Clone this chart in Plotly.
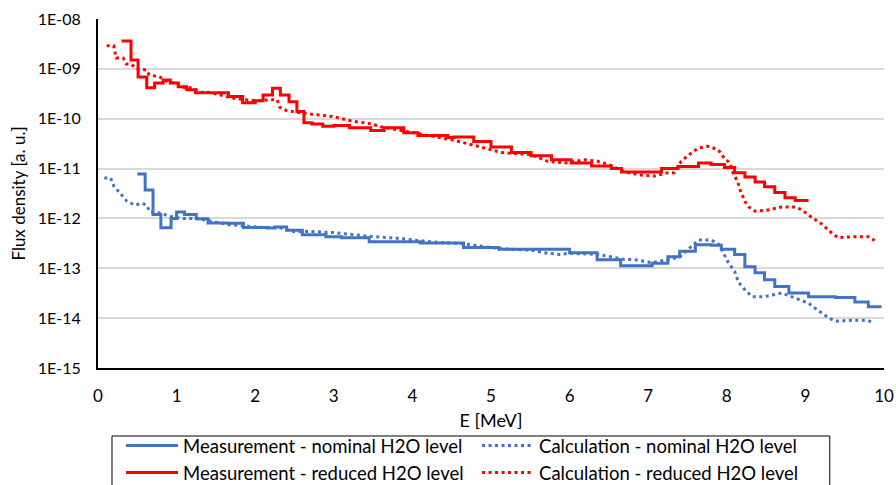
import plotly.graph_objects as go

# ---- data ----
E_meas_nom = [0.5, 0.6, 0.7, 0.8, 0.93, 1.0, 1.1, 1.25, 1.4, 1.65, 1.85, 2.15, 2.25, 2.4, 2.6, 2.9,
              3.1, 3.45, 4.1, 4.65, 5.1, 5.85, 6.0, 6.35, 6.65, 6.9, 7.05, 7.25, 7.4, 7.6, 7.8, 7.93,
              8.1, 8.23, 8.36, 8.48, 8.61, 8.79, 9.04, 9.38, 9.63, 9.8, 9.95]
F_meas_nom = [7.8e-12, 3.7e-12, 1.2e-12, 6.5e-13, 1.0e-12, 1.35e-12, 1.2e-12, 9.8e-13, 8.1e-13, 8.0e-13,
              6.6e-13, 6.4e-13, 6.7e-13, 5.8e-13, 4.7e-13, 4.3e-13, 4.1e-13, 3.4e-13, 3.2e-13, 2.6e-13,
              2.4e-13, 2.4e-13, 2.05e-13, 1.48e-13, 1.12e-13, 1.12e-13, 1.26e-13, 1.7e-13, 2.2e-13, 2.95e-13,
              2.9e-13, 2.4e-13, 1.9e-13, 1.07e-13, 8.1e-14, 5.9e-14, 4.3e-14, 3.2e-14, 2.7e-14, 2.6e-14,
              2.1e-14, 1.7e-14, 1.6e-14]

E_calc_nom = [0.08, 0.16, 0.2, 0.28, 0.37, 0.47, 0.56, 0.62, 0.66, 0.77, 0.92, 1.07, 1.25, 1.45, 1.66,
              2.09, 2.3, 2.5, 2.67, 3.0, 3.38, 3.81, 4.23, 4.66, 5.08, 5.51, 5.72, 5.87, 6.0, 6.36, 6.7,
              6.82, 7.04, 7.26, 7.4, 7.51, 7.64, 7.8, 7.9, 8.02, 8.1, 8.15, 8.23, 8.32, 8.48, 8.7, 9.04,
              9.12, 9.3, 9.38, 9.63, 9.8, 9.87]
F_calc_nom = [6.5e-12, 6.5e-12, 4.5e-12, 3.2e-12, 2.2e-12, 1.85e-12, 2.0e-12, 1.85e-12, 1.35e-12, 1.3e-12,
              1.1e-12, 1.0e-12, 1.0e-12, 8.7e-13, 7.5e-13, 6.6e-13, 6.6e-13, 5.4e-13, 5.5e-13, 5.2e-13,
              4.5e-13, 4.0e-13, 3.4e-13, 3.1e-13, 2.5e-13, 2.3e-13, 2.0e-13, 1.9e-13, 2.0e-13, 1.9e-13,
              1.5e-13, 1.5e-13, 1.3e-13, 1.5e-13, 1.7e-13, 2.4e-13, 3.7e-13, 3.7e-13, 3.0e-13, 1.3e-13,
              8.6e-14, 5.2e-14, 3.7e-14, 2.7e-14, 2.7e-14, 3.2e-14, 2.0e-14, 1.6e-14, 1.0e-14, 8.7e-15,
              9.1e-15, 9.0e-15, 7.7e-15]

E_meas_red = [0.3, 0.42, 0.51, 0.62, 0.72, 0.83, 0.92, 1.02, 1.13, 1.24, 1.66, 1.84, 2.0, 2.1, 2.22, 2.32,
              2.43, 2.53, 2.62, 2.72, 2.86, 3.0, 3.2, 3.47, 3.64, 3.89, 4.07, 4.45, 4.53, 4.78, 5.0, 5.26,
              5.51, 5.77, 6.02, 6.28, 6.53, 6.66, 6.91, 7.17, 7.38, 7.64, 7.8, 7.97, 8.1, 8.23, 8.36, 8.48,
              8.61, 8.74, 8.87, 9.04]
F_meas_red = [3.6e-9, 1.5e-9, 6.9e-10, 4.2e-10, 5.2e-10, 6.0e-10, 5.2e-10, 4.4e-10, 3.8e-10, 3.3e-10,
              2.8e-10, 2.1e-10, 2.3e-10, 3.0e-10, 4.1e-10, 3.0e-10, 2.2e-10, 1.4e-10, 8.3e-11, 7.8e-11,
              7.1e-11, 7.3e-11, 6.6e-11, 5.8e-11, 6.6e-11, 5.2e-11, 4.6e-11, 4.2e-11, 4.3e-11, 3.5e-11,
              2.7e-11, 2.1e-11, 1.8e-11, 1.5e-11, 1.3e-11, 1.12e-11, 1.0e-11, 8.5e-12, 8.5e-12, 1.0e-11,
              1.1e-11, 1.3e-11, 1.2e-11, 1.05e-11, 8.2e-12, 6.8e-12, 5.4e-12, 4.3e-12, 3.3e-12, 2.6e-12,
              2.3e-12, 2.3e-12]

E_calc_red = [0.11, 0.2, 0.23, 0.32, 0.36, 0.42, 0.49, 0.54, 0.62, 0.65, 0.73, 0.79, 0.9, 1.0, 1.1, 1.2,
              1.3, 1.4, 1.6, 1.7, 1.87, 2.05, 2.18, 2.28, 2.31, 2.4, 2.68, 2.85, 3.0, 3.21, 3.47, 3.6,
              3.81, 4.0, 4.23, 4.53, 4.87, 5.13, 5.51, 5.72, 5.94, 6.19, 6.36, 6.5, 6.7, 6.91, 7.08, 7.25,
              7.33, 7.42, 7.53, 7.64, 7.76, 7.89, 7.97, 8.04, 8.08, 8.14, 8.17, 8.23, 8.28, 8.36, 8.5,
              8.7, 8.87, 8.95, 9.08, 9.21, 9.34, 9.42, 9.6, 9.8, 9.88]
F_calc_red = [2.9e-9, 2.9e-9, 1.65e-9, 1.65e-9, 1.25e-9, 1.25e-9, 1.0e-9, 9.9e-10, 9.5e-10, 7.6e-10,
              7.2e-10, 6.8e-10, 5.3e-10, 5.3e-10, 4.2e-10, 4.2e-10, 3.4e-10, 3.4e-10, 2.9e-10, 2.6e-10,
              2.4e-10, 2.3e-10, 2.4e-10, 2.4e-10, 1.7e-10, 1.45e-10, 1.25e-10, 1.15e-10, 1.1e-10, 9.1e-11,
              7.9e-11, 6.9e-11, 6.0e-11, 5.2e-11, 4.6e-11, 3.7e-11, 2.7e-11, 2.1e-11, 1.9e-11, 1.4e-11,
              1.3e-11, 1.5e-11, 1.4e-11, 1.2e-11, 8.6e-12, 7.4e-12, 7.1e-12, 8.2e-12, 8.2e-12, 1.4e-11,
              1.95e-11, 2.6e-11, 2.8e-11, 2.4e-11, 1.6e-11, 1.3e-11, 8.2e-12, 5.4e-12, 3.7e-12, 2.2e-12,
              1.7e-12, 1.4e-12, 1.45e-12, 1.7e-12, 1.7e-12, 1.5e-12, 1.05e-12, 7.7e-13, 5.0e-13, 4.1e-13,
              4.3e-13, 4.3e-13, 3.6e-13]

y_tick_vals = [1e-15, 1e-14, 1e-13, 1e-12, 1e-11, 1e-10, 1e-09, 1e-08]
y_tick_text = ["1E-15", "1E-14", "1E-13", "1E-12", "1E-11", "1E-10", "1E-09", "1E-08"]

names = ["Measurement - nominal H2O level", "Calculation - nominal H2O level",
         "Measurement - reduced H2O level", "Calculation - reduced H2O level"]

BLUE = "#4472C4"
RED = "#FF0000"
FONT = "Lato, Liberation Sans, Arial, sans-serif"
DOT = "3px,3.5px"

fig = go.Figure()
fig.add_trace(go.Scatter(x=E_meas_nom, y=F_meas_nom, mode="lines", name=names[0],
                         line=dict(color=BLUE, width=3, shape="hv")))
fig.add_trace(go.Scatter(x=E_calc_nom, y=F_calc_nom, mode="lines", name=names[1],
                         line=dict(color=BLUE, width=3, dash=DOT)))
fig.add_trace(go.Scatter(x=E_meas_red, y=F_meas_red, mode="lines", name=names[2],
                         line=dict(color=RED, width=3, shape="hv")))
fig.add_trace(go.Scatter(x=E_calc_red, y=F_calc_red, mode="lines", name=names[3],
                         line=dict(color=RED, width=3, dash=DOT)))

# legend frame (drawn as a shape so its edges sit where the reference has them)
fig.add_shape(type="rect", xref="paper", yref="paper",
              x0=0.0178, x1=0.931, y0=-0.345, y1=-0.1948,
              line=dict(color="#000000", width=1), fillcolor="rgba(0,0,0,0)", layer="above")

fig.update_layout(
    width=896, height=485,
    margin=dict(l=98, r=12, t=19, b=117, autoexpand=False),
    paper_bgcolor="white", plot_bgcolor="white",
    font=dict(family=FONT, color="#000000", size=16),
    legend=dict(orientation="h", x=0.0293, xanchor="left", y=-0.169, yanchor="top",
                borderwidth=0, bgcolor="rgba(0,0,0,0)",
                font=dict(size=18.5, family=FONT), itemwidth=52,
                entrywidth=289, entrywidthmode="pixels", tracegroupgap=0),
    xaxis=dict(range=[0, 10], dtick=1, tick0=0, showgrid=False, zeroline=False,
               showline=True, linecolor="#000000", linewidth=2,
               ticks="", ticklabelstandoff=12,
               tickfont=dict(size=17),
               title=dict(text="E [MeV]", font=dict(size=18), standoff=9)),
    yaxis=dict(type="log", range=[-15, -8], tickvals=y_tick_vals, ticktext=y_tick_text,
               showgrid=True, gridcolor="#D9D9D9", gridwidth=1.5, zeroline=False,
               showline=True, linecolor="#000000", linewidth=2,
               ticks="", ticklabelstandoff=12,
               tickfont=dict(size=16),
               title=dict(text="Flux density [a. u.]", font=dict(size=17), standoff=8)),
)

fig.write_html("out.html")
